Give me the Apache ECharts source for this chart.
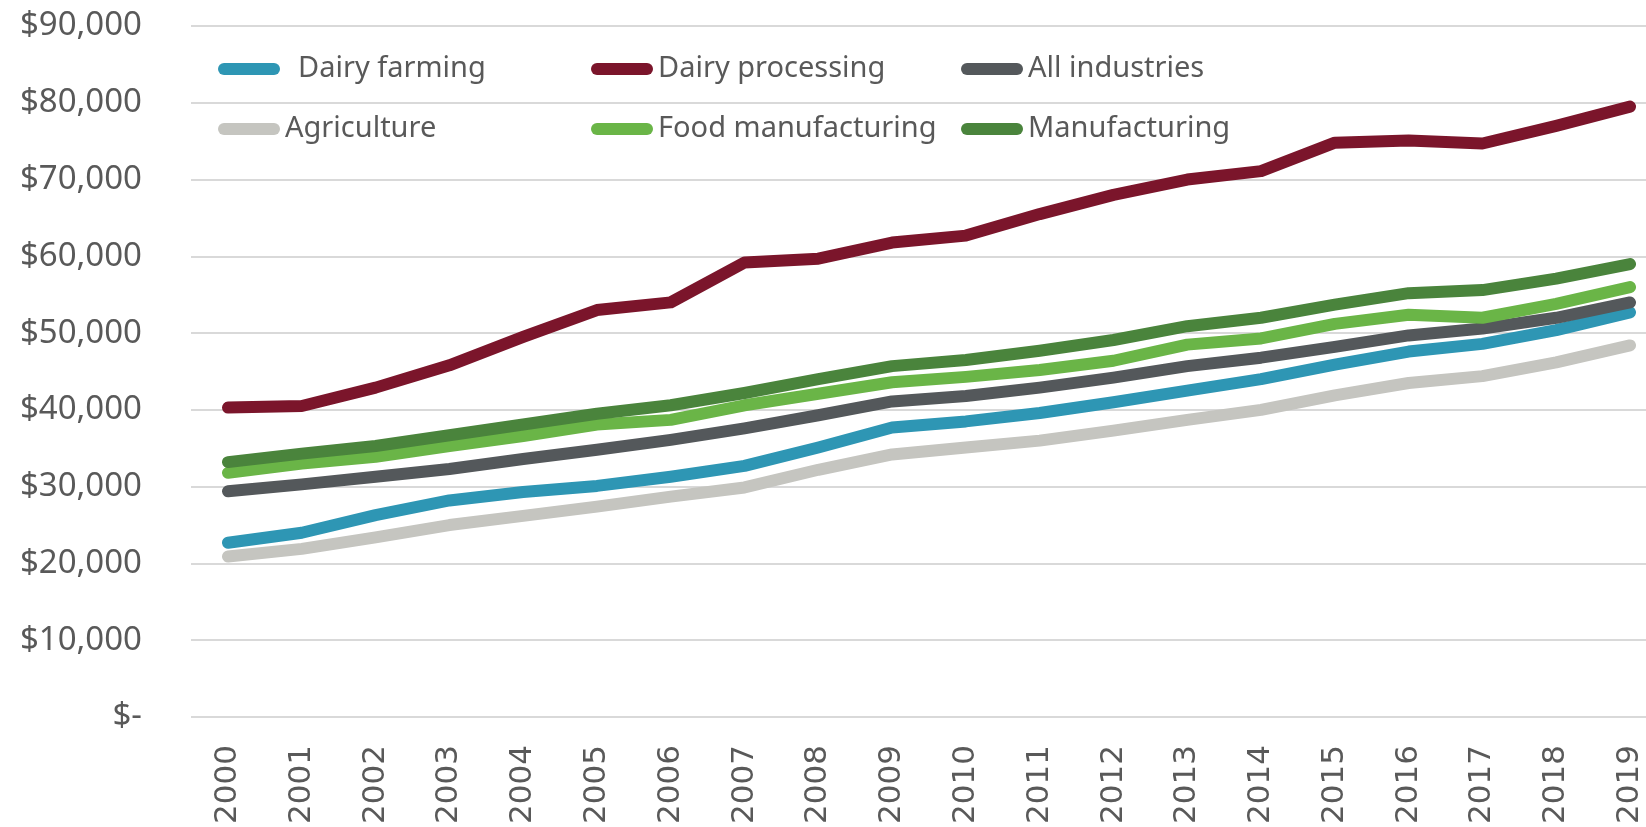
<!DOCTYPE html>
<html>
<head>
<meta charset="utf-8">
<script src="https://cdn.jsdelivr.net/npm/echarts@6/dist/echarts.min.js"></script>
<style>
html,body{margin:0;padding:0;background:#fff;}
#chart{width:1646px;height:827px;}
</style>
</head>
<body>
<div id="chart"></div>
<script>
const years = ['2000','2001','2002','2003','2004','2005','2006','2007','2008','2009','2010','2011','2012','2013','2014','2015','2016','2017','2018','2019'];
const dairyFarming = [22700,24000,26300,28200,29300,30100,31300,32700,35100,37700,38500,39600,41000,42500,44000,45900,47600,48600,50400,52700];
const dairyProcessing = [40300,40500,42900,45800,49500,53000,54000,59200,59700,61800,62700,65500,68000,70000,71100,74800,75100,74700,77000,79500];
const allIndustries = [29400,30300,31300,32300,33600,34800,36100,37600,39300,41100,41800,42900,44200,45700,46800,48200,49700,50600,52000,54000];
const agriculture = [20900,21900,23400,25000,26200,27400,28700,29900,32200,34200,35100,36000,37300,38700,40000,41900,43500,44400,46200,48400];
const foodManufacturing = [31800,33000,33900,35300,36600,38100,38700,40600,42100,43600,44300,45200,46400,48500,49300,51200,52400,52000,53800,56000];
const manufacturing = [33200,34300,35300,36700,38100,39500,40600,42200,44000,45700,46500,47700,49100,50900,52000,53700,55200,55600,57100,59000];

const seriesDefs = [
  {name:'Agriculture', data:agriculture, color:'#C5C5C0'},
  {name:'Dairy farming', data:dairyFarming, color:'#2E96B4'},
  {name:'All industries', data:allIndustries, color:'#54585B'},
  {name:'Food manufacturing', data:foodManufacturing, color:'#6AB547'},
  {name:'Manufacturing', data:manufacturing, color:'#4A843C'},
  {name:'Dairy processing', data:dairyProcessing, color:'#7B152B'}
];

const capsule = 'path://M6,0 L56,0 A6,6 0 0 1 56,12 L6,12 A6,6 0 0 1 6,0 Z';
const legendPos = [
  {name:'Dairy farming', left:218, top:53, pad:13},
  {name:'Dairy processing', left:591, top:53, pad:0},
  {name:'All industries', left:961, top:53, pad:0},
  {name:'Agriculture', left:218, top:113, pad:0},
  {name:'Food manufacturing', left:591, top:113, pad:0},
  {name:'Manufacturing', left:961, top:113, pad:0}
];

const chart = echarts.init(document.getElementById('chart'));
chart.setOption({
  animation:false,
  backgroundColor:'#fff',
  grid:[
    {left:191, top:26, right:0, height:691, containLabel:false},
    {left:228, top:26, right:16, height:691, containLabel:false}
  ],
  legend: legendPos.map(l => ({
    data:[l.name], left:l.left, top:l.top, padding:0,
    icon:capsule, itemWidth:62, itemHeight:12,
    textStyle:{color:'#595959', fontSize:29, fontFamily:'Noto Sans', lineHeight:32, padding:[0,0,0,l.pad]}
  })),
  xAxis:[
    {gridIndex:0, type:'value', min:0, max:1, show:false},
    {
      gridIndex:1, type:'category', data:years, boundaryGap:false,
      axisLine:{show:false}, axisTick:{show:false}, splitLine:{show:false},
      axisLabel:{rotate:90, margin:28, color:'#595959', fontSize:31, fontFamily:'DejaVu Sans', interval:0}
    }
  ],
  yAxis:[
    {
      gridIndex:0, type:'value', min:0, max:90000, interval:10000,
      axisLine:{show:false}, axisTick:{show:false},
      splitLine:{lineStyle:{color:'#D9D9D9', width:2}},
      axisLabel:{margin:49, color:'#595959', fontSize:33, fontFamily:'Noto Sans',
        formatter: v => v === 0 ? '$-' : '$' + v.toLocaleString('en-US')}
    },
    {
      gridIndex:1, type:'value', min:0, max:90000, interval:10000, show:false,
      splitLine:{show:false}
    }
  ],
  series: seriesDefs.map(s => ({
    name:s.name, type:'line', data:s.data, symbol:'none',
    xAxisIndex:1, yAxisIndex:1,
    itemStyle:{color:s.color},
    lineStyle:{color:s.color, width:12, cap:'round', join:'round'}
  }))
});
</script>
</body>
</html>
